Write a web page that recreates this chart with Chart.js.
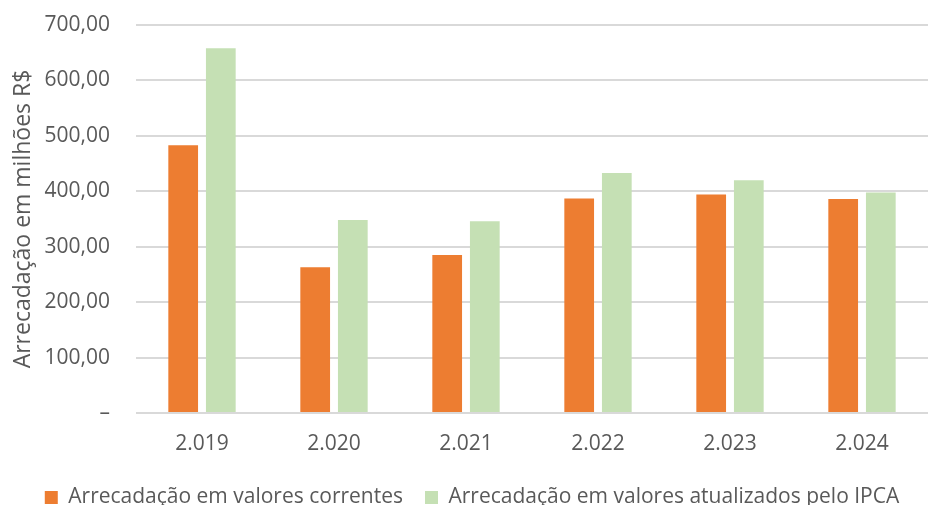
<!DOCTYPE html>
<html>
<head>
<meta charset="utf-8">
<script src="https://cdn.jsdelivr.net/npm/chart.js@4/dist/chart.umd.min.js"></script>
<style>
  html, body { margin: 0; padding: 0; background: #fff; }
  #wrap { width: 928px; height: 505px; }
</style>
</head>
<body>
<div id="wrap"><canvas id="arrecChart"></canvas></div>
<script>
const orange = '#ED7D31';
const greenLight = '#C5E0B4';
const textGrey = '#595959';
const gridGrey = '#D9D9D9';

const years = ['2.019', '2.020', '2.021', '2.022', '2.023', '2.024'];
const correntes = [483, 263, 285, 387, 394, 386];
const atualizados = [658, 348, 346, 433, 420, 398];
const yTicks = [0, 100, 200, 300, 400, 500, 600, 700];

const fontFamily = "'Open Sans', 'Liberation Sans', sans-serif";

function fmt(v) {
    // Excel-style accounting format: zero shows as a dash
    if (v === 0) return '–';
    return v.toFixed(2).replace('.', ',');
}

const ctx = document.getElementById('arrecChart').getContext('2d');

new Chart(ctx, {
    type: 'bar',
    data: {
        labels: years,
        datasets: [
            { label: 'Arrecadação em valores correntes', data: correntes, backgroundColor: orange, categoryPercentage: 0.57, barPercentage: 0.79 },
            { label: 'Arrecadação em valores atualizados pelo IPCA', data: atualizados, backgroundColor: greenLight, categoryPercentage: 0.57, barPercentage: 0.79 }
        ]
    },
    options: {
        responsive: true,
        maintainAspectRatio: false,
        animation: false,
        // plot runs a few px past the right edge, legend sits low like the original
        layout: { padding: { top: 25, right: -6, bottom: -13, left: 10 } },
        plugins: {
            tooltip: { enabled: false },
            legend: {
                position: 'bottom',
                labels: {
                    color: textGrey,
                    font: { family: fontFamily, size: 21 },
                    boxWidth: 13,
                    boxHeight: 13,
                    padding: 22
                }
            }
        },
        scales: {
            x: {
                grid: { display: false },
                border: { display: false },
                ticks: { color: textGrey, font: { family: fontFamily, size: 21 }, padding: 10 },
                afterFit: s => { s.height = 52; }
            },
            y: {
                min: 0,
                max: 700,
                afterBuildTicks: s => { s.ticks = yTicks.map(v => ({ value: v })); },
                grid: { color: gridGrey, lineWidth: 2, drawTicks: false },
                border: { display: false },
                ticks: {
                    color: textGrey,
                    font: { family: fontFamily, size: 21 },
                    padding: 26,
                    callback: v => fmt(v)
                },
                title: {
                    display: true,
                    text: 'Arrecadação em milhões R$',
                    color: textGrey,
                    font: { family: fontFamily, size: 23 },
                    padding: { top: 0, bottom: 0 }
                },
                afterFit: s => { s.width = 126; s.paddingTop = 0; }
            }
        }
    }
});
</script>
</body>
</html>
